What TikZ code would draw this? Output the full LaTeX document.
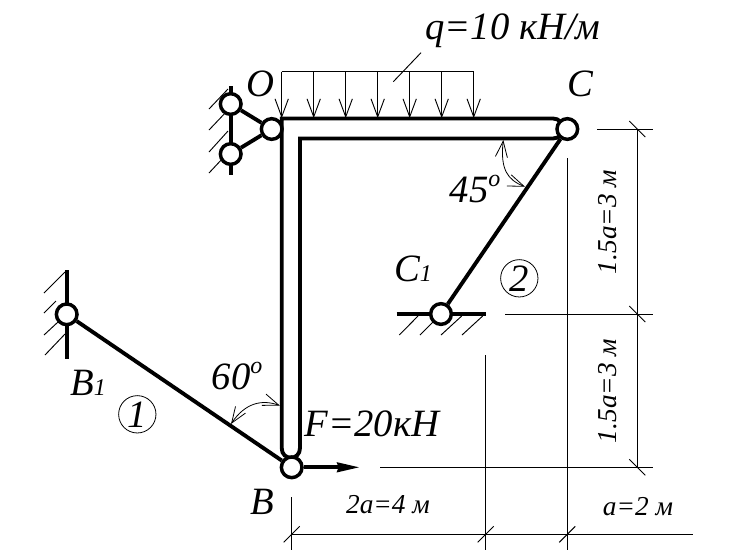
\documentclass[tikz,border=0pt]{standalone}
\usepackage{fontspec}
\setmainfont{Liberation Serif}
\usetikzlibrary{arrows.meta,calc}
\newcommand{\smalltxt}[1]{{\fontsize{18}{18}\selectfont #1}}
\newcommand{\degr}{\raisebox{0.42em}{\smalltxt{o}}}
\tikzset{
  bar/.style={line width=2.9pt},
  hinge/.style={circle, draw, fill=white, line width=2.6pt, minimum size=15.5pt, inner sep=0pt},
  fine/.style={line width=0.7pt},
  label/.style={font=\fontsize{29}{29}\selectfont\itshape, inner sep=0pt},
  dimlabel/.style={font=\fontsize{20.5}{20.5}\selectfont\itshape, inner sep=0pt},
  member/.style={circle, draw, line width=0.6pt, minimum size=28pt, inner sep=0pt, font=\fontsize{29}{29}\selectfont\itshape},
  openhead/.style={fine, -{Straight Barb[length=13.5pt,width=10pt]}},
  angletip/.style={line width=0.6pt, {Straight Barb[length=12pt,width=9pt]}-{Straight Barb[length=12pt,width=9pt]}}
}
\begin{document}
\begin{tikzpicture}[x=0.75pt, y=-0.75pt]
\useasboundingbox (0,0) rectangle (741,558);

% walls
\coordinate (wallOa) at (230.7,86);
\coordinate (wallOb) at (230.7,175);
\coordinate (wallBa) at (66.7,270);
\coordinate (wallBb) at (66.7,359);
\coordinate (groundA) at (396.7,314);
\coordinate (groundB) at (486,314);
\draw[bar] (wallOa) -- (wallOb);
\draw[bar] (wallBa) -- (wallBb);
\draw[bar] (groundA) -- (groundB);
\foreach \xa/\ya/\xb/\yb in {209/109/228/89, 209/130/228/110, 209/152/228/131, 209/173/223/158,
  44/293/65/272, 44/313/56/301, 44/335/58/322, 45/355/65/334,
  399.3/335/418/316, 420/335/433/322, 441/335/461.7/316, 462/335/482.7/316}
  \draw[fine] (\xa,\ya) -- (\xb,\yb);

% frame
\draw[bar] (281.7,448) -- (281.7,118.5) -- (553,118.5)
  .. controls (566,118.5) and (566,138.5) .. (553,138.5) -- (300,138.5) -- (300,448)
  .. controls (300,461) and (281.7,461) .. (281.7,448) -- cycle;

% hinges
\node[hinge] (O) at (271.7,129) {};
\node[hinge] (Ot) at (230.7,104) {};
\node[hinge] (Ob) at (230.7,154) {};
\node[hinge] (C) at (567.3,129) {};
\node[hinge] (B) at (291.7,467.3) {};
\node[hinge] (Bo) at (66.7,314.3) {};
\node[hinge] (Co) at (441,314) {};

% rods
\draw[bar] (O) -- (Ot);
\draw[bar] (O) -- (Ob);
\draw[bar] (Bo) -- (B);
\draw[bar] (Co) -- (C);

% force
\coordinate (Fend) at (360,467.3);
\draw[bar, -{Stealth[length=17pt,width=7pt,inset=1pt]}] (B) -- (Fend);

% load
\coordinate (qa) at (281.7,71.7);
\coordinate (qb) at (473.7,71.7);
\draw[fine] (qa) -- (qb);
\foreach \i in {0,...,6}
  \draw[openhead] ($(qa)+(32*\i,0)$) -- ($(qa)+(32*\i,46.5)$);
\coordinate (qlinea) at (421,52.7);
\coordinate (qlineb) at (393.3,81.7);
\draw[fine] (qlinea) -- (qlineb);

% angles
\draw[angletip] (280,405.7) .. controls (262,399) and (245,403) .. (231,424);
\draw[angletip] (503.3,140) .. controls (500,170) and (508,180) .. (525,186.7);

% dimensions
\coordinate (dimC) at (637.3,129);
\coordinate (dimCo) at (637.3,314);
\coordinate (dimB) at (637.3,467.3);
\draw[fine] (dimC) -- (dimB);
\draw[fine] (597,129) -- (653,129);
\draw[fine] (505,314) -- (653,314);
\draw[fine] (380,467.3) -- (653,467.3);
\coordinate (dimx0) at (291.7,534.3);
\coordinate (dimx1) at (485.7,534.3);
\coordinate (dimx2) at (567.3,534.3);
\draw[fine] (dimx0) -- (693,534.3);
\draw[fine] (291.7,497) -- (291.7,550);
\draw[fine] (485.7,355) -- (485.7,550);
\draw[fine] (567.3,158) -- (567.3,550);
\foreach \p in {dimC,dimCo,dimB}
  \draw[fine] ($(\p)+(-8,-8)$) -- ($(\p)+(8,8)$);
\foreach \p in {dimx0,dimx1,dimx2}
  \draw[fine] ($(\p)+(-8,8)$) -- ($(\p)+(8,-8)$);

% labels
\node[label] (qtext) at (513,31) {q=10 кН/м};
\node[label] (Otext) at (260,84) {O};
\node[label] (Ctext) at (580,84) {C};
\node[label] (Cotext) at (413,269) {C\smalltxt{1}};
\node[label] (Botext) at (88,383) {B\smalltxt{1}};
\node[label] (Btext) at (262,502) {B};
\node[label] (Ftext) at (372,424) {F=20кН};
\node[label] (ang45) at (475,189) {45\degr};
\node[label] (ang60) at (237,376) {60\degr};
\node[member] (one) at (137.3,414.3) {1};
\node[member] (two) at (519.3,278.3) {2};
\node[dimlabel] (dim2a) at (388,505) {2a=4 м};
\node[dimlabel] (dima) at (638,507) {a=2 м};
\node[dimlabel, rotate=90] (dimv1) at (608,222) {1.5a=3 м};
\node[dimlabel, rotate=90] (dimv2) at (608,391) {1.5a=3 м};
\end{tikzpicture}
\end{document}
